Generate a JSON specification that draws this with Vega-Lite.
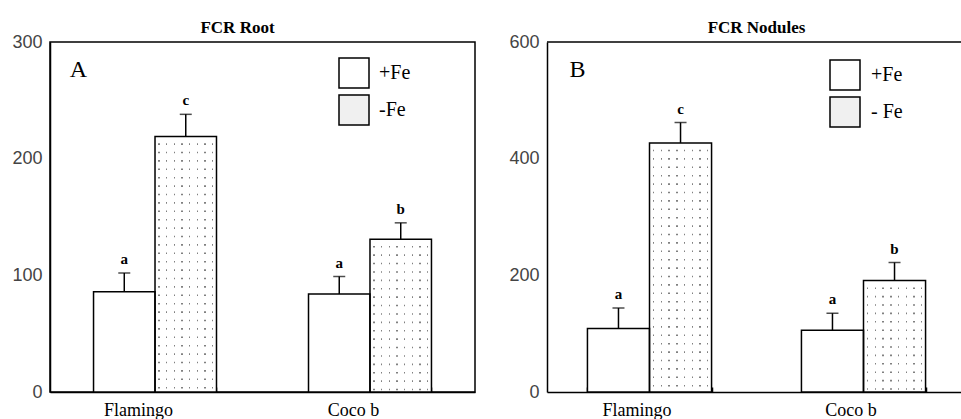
{
  "$schema": "https://vega.github.io/schema/vega-lite/v6.json",
  "padding": {"left": 11, "top": 18, "right": 0, "bottom": 0},
  "autosize": {"type": "pad"},
  "spacing": 32,
  "resolve": {"scale": {"fill": "independent", "xOffset": "independent"}, "legend": {"fill": "independent"}},
  "config": {
    "font": "Liberation Serif",
    "view": {"stroke": "black", "strokeWidth": 1.5},
    "axis": {"grid": false, "domainColor": "black", "domainWidth": 1.5},
    "title": {"font": "Liberation Serif", "fontSize": 17, "fontWeight": "bold", "color": "black", "offset": -4}
  },
  "hconcat": [
    {
      "width": 425,
      "height": 350,
      "title": {"text": "FCR Root", "dx": -25},
      "data": {"values": [
        {"cultivar": "Flamingo", "fe": "+Fe", "mean": 86, "upper": 102, "letter": "a"},
        {"cultivar": "Flamingo", "fe": "-Fe", "mean": 219, "upper": 238, "letter": "c"},
        {"cultivar": "Coco b", "fe": "+Fe", "mean": 84, "upper": 99, "letter": "a"},
        {"cultivar": "Coco b", "fe": "-Fe", "mean": 131, "upper": 145, "letter": "b"}
      ]},
      "layer": [
        {
          "mark": {"type": "bar", "strokeWidth": 0},
          "encoding": {
            "x": {"field": "cultivar", "type": "nominal", "sort": ["Flamingo", "Coco b"],
              "scale": {"paddingInner": 0.428, "paddingOuter": 0.2025, "align": 0.5},
              "axis": {"title": null, "labelAngle": 0, "labelFont": "Liberation Serif", "labelFontSize": 18, "labelColor": "black", "labelPadding": 14, "labelOffset": -17, "ticks": true, "tickBand": "extent", "tickSize": -5, "tickColor": "black", "tickWidth": 1.5}},
            "xOffset": {"field": "fe", "sort": ["+Fe", "-Fe"], "scale": {"paddingInner": 0, "paddingOuter": 0}},
            "y": {"field": "mean", "type": "quantitative", "title": null, "scale": {"domain": [0, 300]},
              "axis": {"values": [0, 100, 200, 300], "labelFont": "Liberation Sans", "labelFontSize": 18, "labelColor": "#444", "labelPadding": 8, "ticks": false}},
            "fill": {"field": "fe", "type": "nominal", "scale": {"domain": ["+Fe", "-Fe"], "range": ["white", "#f0f0f0"]},
              "legend": {"orient": "none", "legendX": 288, "legendY": 15, "title": null, "symbolType": "square", "symbolSize": 900, "symbolStrokeColor": "black", "symbolStrokeWidth": 1.5, "labelFont": "Liberation Serif", "labelFontSize": 20, "labelColor": "black", "labelOffset": 9, "rowPadding": 1}}
          }
        },
        {
          "transform": [{"filter": "datum.fe !== '+Fe'"}],
          "mark": {"type": "bar", "strokeWidth": 0, "fill": {"gradient": "linear", "x1": 0, "y1": 0, "x2": 1, "y2": 0, "stops": [
                {"offset": 0, "color": "white"},
                {"offset": 0.054, "color": "white"}, {"offset": 0.054, "color": "#808080"}, {"offset": 0.078, "color": "#808080"}, {"offset": 0.078, "color": "white"},
                {"offset": 0.178, "color": "white"}, {"offset": 0.178, "color": "#808080"}, {"offset": 0.202, "color": "#808080"}, {"offset": 0.202, "color": "white"},
                {"offset": 0.303, "color": "white"}, {"offset": 0.303, "color": "#808080"}, {"offset": 0.327, "color": "#808080"}, {"offset": 0.327, "color": "white"},
                {"offset": 0.428, "color": "white"}, {"offset": 0.428, "color": "#808080"}, {"offset": 0.452, "color": "#808080"}, {"offset": 0.452, "color": "white"},
                {"offset": 0.552, "color": "white"}, {"offset": 0.552, "color": "#808080"}, {"offset": 0.576, "color": "#808080"}, {"offset": 0.576, "color": "white"},
                {"offset": 0.677, "color": "white"}, {"offset": 0.677, "color": "#808080"}, {"offset": 0.701, "color": "#808080"}, {"offset": 0.701, "color": "white"},
                {"offset": 0.801, "color": "white"}, {"offset": 0.801, "color": "#808080"}, {"offset": 0.825, "color": "#808080"}, {"offset": 0.825, "color": "white"},
                {"offset": 0.926, "color": "white"}, {"offset": 0.926, "color": "#808080"}, {"offset": 0.950, "color": "#808080"}, {"offset": 0.950, "color": "white"},
                {"offset": 1, "color": "white"}]}},
          "encoding": {
            "x": {"field": "cultivar", "type": "nominal", "sort": ["Flamingo", "Coco b"]},
            "xOffset": {"field": "fe", "sort": ["+Fe", "-Fe"]},
            "y": {"field": "mean", "type": "quantitative", "title": null}
          }
        },
        {
          "transform": [{"filter": "datum.fe !== '+Fe'"}],
          "mark": {"type": "rule", "color": "white", "strokeWidth": 57, "strokeDash": [6.8, 1.6], "strokeCap": "butt"},
          "encoding": {
            "x": {"field": "cultivar", "type": "nominal", "sort": ["Flamingo", "Coco b"]},
            "xOffset": {"field": "fe", "sort": ["+Fe", "-Fe"]},
            "y": {"field": "mean", "type": "quantitative", "title": null},
            "y2": {"datum": 0}
          }
        },
        {
          "mark": {"type": "bar", "stroke": "black", "strokeWidth": 1.5, "fillOpacity": 0, "fill": "white"},
          "encoding": {
            "x": {"field": "cultivar", "type": "nominal", "sort": ["Flamingo", "Coco b"]},
            "xOffset": {"field": "fe", "sort": ["+Fe", "-Fe"]},
            "y": {"field": "mean", "type": "quantitative", "title": null}
          }
        },
        {
          "mark": {"type": "rule", "color": "black", "strokeWidth": 1.5},
          "encoding": {
            "x": {"field": "cultivar", "type": "nominal", "sort": ["Flamingo", "Coco b"]},
            "xOffset": {"field": "fe", "sort": ["+Fe", "-Fe"]},
            "y": {"field": "mean", "type": "quantitative", "title": null},
            "y2": {"field": "upper"}
          }
        },
        {
          "mark": {"type": "tick", "color": "black", "thickness": 1.5, "size": 12, "orient": "horizontal"},
          "encoding": {
            "x": {"field": "cultivar", "type": "nominal", "sort": ["Flamingo", "Coco b"]},
            "xOffset": {"field": "fe", "sort": ["+Fe", "-Fe"]},
            "y": {"field": "upper", "type": "quantitative", "title": null}
          }
        },
        {
          "mark": {"type": "text", "font": "Liberation Serif", "fontWeight": "bold", "fontSize": 15, "baseline": "bottom", "dy": -6, "color": "black"},
          "encoding": {
            "x": {"field": "cultivar", "type": "nominal", "sort": ["Flamingo", "Coco b"]},
            "xOffset": {"field": "fe", "sort": ["+Fe", "-Fe"]},
            "y": {"field": "upper", "type": "quantitative", "title": null},
            "text": {"field": "letter"}
          }
        },
        {
          "data": {"values": [{"panel": "A", "pos": 276}]},
          "mark": {"type": "text", "font": "Liberation Serif", "fontSize": 24, "align": "center", "baseline": "middle", "dx": -15, "color": "black"},
          "encoding": {
            "x": {"datum": "Flamingo", "bandPosition": 0},
            "y": {"field": "pos", "type": "quantitative", "title": null},
            "text": {"field": "panel"}
          }
        }
      ]
    },
    {
      "width": 419,
      "height": 350,
      "view": {"stroke": null},
      "title": {"text": "FCR Nodules"},
      "data": {"values": [
        {"cultivar": "Flamingo", "fe": "+Fe", "mean": 109, "upper": 144, "letter": "a"},
        {"cultivar": "Flamingo", "fe": "- Fe", "mean": 427, "upper": 462, "letter": "c"},
        {"cultivar": "Coco b", "fe": "+Fe", "mean": 106, "upper": 135, "letter": "a"},
        {"cultivar": "Coco b", "fe": "- Fe", "mean": 191, "upper": 222, "letter": "b"}
      ]},
      "layer": [
        {
          "mark": {"type": "bar", "strokeWidth": 0},
          "encoding": {
            "x": {"field": "cultivar", "type": "nominal", "sort": ["Flamingo", "Coco b"],
              "scale": {"paddingInner": 0.42, "paddingOuter": 0.189, "align": 0.5},
              "axis": {"title": null, "labelAngle": 0, "labelFont": "Liberation Serif", "labelFontSize": 18, "labelColor": "black", "labelPadding": 14, "labelOffset": -13, "ticks": true, "tickBand": "extent", "tickSize": -5, "tickColor": "black", "tickWidth": 1.5}},
            "xOffset": {"field": "fe", "sort": ["+Fe", "- Fe"], "scale": {"paddingInner": 0, "paddingOuter": 0}},
            "y": {"field": "mean", "type": "quantitative", "title": null, "scale": {"domain": [0, 600]},
              "axis": {"values": [0, 200, 400, 600], "labelFont": "Liberation Sans", "labelFontSize": 18, "labelColor": "#444", "labelPadding": 8, "ticks": false}},
            "fill": {"field": "fe", "type": "nominal", "scale": {"domain": ["+Fe", "- Fe"], "range": ["white", "#f0f0f0"]},
              "legend": {"orient": "none", "legendX": 282, "legendY": 17, "title": null, "symbolType": "square", "symbolSize": 900, "symbolStrokeColor": "black", "symbolStrokeWidth": 1.5, "labelFont": "Liberation Serif", "labelFontSize": 20, "labelColor": "black", "labelOffset": 10, "rowPadding": 1}}
          }
        },
        {
          "transform": [{"filter": "datum.fe !== '+Fe'"}],
          "mark": {"type": "bar", "strokeWidth": 0, "fill": {"gradient": "linear", "x1": 0, "y1": 0, "x2": 1, "y2": 0, "stops": [
                {"offset": 0, "color": "white"},
                {"offset": 0.054, "color": "white"}, {"offset": 0.054, "color": "#808080"}, {"offset": 0.078, "color": "#808080"}, {"offset": 0.078, "color": "white"},
                {"offset": 0.178, "color": "white"}, {"offset": 0.178, "color": "#808080"}, {"offset": 0.202, "color": "#808080"}, {"offset": 0.202, "color": "white"},
                {"offset": 0.303, "color": "white"}, {"offset": 0.303, "color": "#808080"}, {"offset": 0.327, "color": "#808080"}, {"offset": 0.327, "color": "white"},
                {"offset": 0.428, "color": "white"}, {"offset": 0.428, "color": "#808080"}, {"offset": 0.452, "color": "#808080"}, {"offset": 0.452, "color": "white"},
                {"offset": 0.552, "color": "white"}, {"offset": 0.552, "color": "#808080"}, {"offset": 0.576, "color": "#808080"}, {"offset": 0.576, "color": "white"},
                {"offset": 0.677, "color": "white"}, {"offset": 0.677, "color": "#808080"}, {"offset": 0.701, "color": "#808080"}, {"offset": 0.701, "color": "white"},
                {"offset": 0.801, "color": "white"}, {"offset": 0.801, "color": "#808080"}, {"offset": 0.825, "color": "#808080"}, {"offset": 0.825, "color": "white"},
                {"offset": 0.926, "color": "white"}, {"offset": 0.926, "color": "#808080"}, {"offset": 0.950, "color": "#808080"}, {"offset": 0.950, "color": "white"},
                {"offset": 1, "color": "white"}]}},
          "encoding": {
            "x": {"field": "cultivar", "type": "nominal", "sort": ["Flamingo", "Coco b"]},
            "xOffset": {"field": "fe", "sort": ["+Fe", "- Fe"]},
            "y": {"field": "mean", "type": "quantitative", "title": null}
          }
        },
        {
          "transform": [{"filter": "datum.fe !== '+Fe'"}],
          "mark": {"type": "rule", "color": "white", "strokeWidth": 58, "strokeDash": [6.8, 1.6], "strokeCap": "butt"},
          "encoding": {
            "x": {"field": "cultivar", "type": "nominal", "sort": ["Flamingo", "Coco b"]},
            "xOffset": {"field": "fe", "sort": ["+Fe", "- Fe"]},
            "y": {"field": "mean", "type": "quantitative", "title": null},
            "y2": {"datum": 0}
          }
        },
        {
          "mark": {"type": "bar", "stroke": "black", "strokeWidth": 1.5, "fillOpacity": 0, "fill": "white"},
          "encoding": {
            "x": {"field": "cultivar", "type": "nominal", "sort": ["Flamingo", "Coco b"]},
            "xOffset": {"field": "fe", "sort": ["+Fe", "- Fe"]},
            "y": {"field": "mean", "type": "quantitative", "title": null}
          }
        },
        {
          "mark": {"type": "rule", "color": "black", "strokeWidth": 1.5},
          "encoding": {
            "x": {"field": "cultivar", "type": "nominal", "sort": ["Flamingo", "Coco b"]},
            "xOffset": {"field": "fe", "sort": ["+Fe", "- Fe"]},
            "y": {"field": "mean", "type": "quantitative", "title": null},
            "y2": {"field": "upper"}
          }
        },
        {
          "mark": {"type": "tick", "color": "black", "thickness": 1.5, "size": 12, "orient": "horizontal"},
          "encoding": {
            "x": {"field": "cultivar", "type": "nominal", "sort": ["Flamingo", "Coco b"]},
            "xOffset": {"field": "fe", "sort": ["+Fe", "- Fe"]},
            "y": {"field": "upper", "type": "quantitative", "title": null}
          }
        },
        {
          "mark": {"type": "text", "font": "Liberation Serif", "fontWeight": "bold", "fontSize": 15, "baseline": "bottom", "dy": -6, "color": "black"},
          "encoding": {
            "x": {"field": "cultivar", "type": "nominal", "sort": ["Flamingo", "Coco b"]},
            "xOffset": {"field": "fe", "sort": ["+Fe", "- Fe"]},
            "y": {"field": "upper", "type": "quantitative", "title": null},
            "text": {"field": "letter"}
          }
        },
        {
          "data": {"values": [{"panel": "B", "pos": 552}]},
          "mark": {"type": "text", "font": "Liberation Serif", "fontSize": 24, "align": "center", "baseline": "middle", "dx": -10, "color": "black"},
          "encoding": {
            "x": {"datum": "Flamingo", "bandPosition": 0},
            "y": {"field": "pos", "type": "quantitative", "title": null},
            "text": {"field": "panel"}
          }
        },
        {
          "data": {"values": [{"top": 600}]},
          "mark": {"type": "rule", "color": "black", "strokeWidth": 1.5},
          "encoding": {
            "y": {"field": "top", "type": "quantitative", "title": null}
          }
        }
      ]
    }
  ]
}
